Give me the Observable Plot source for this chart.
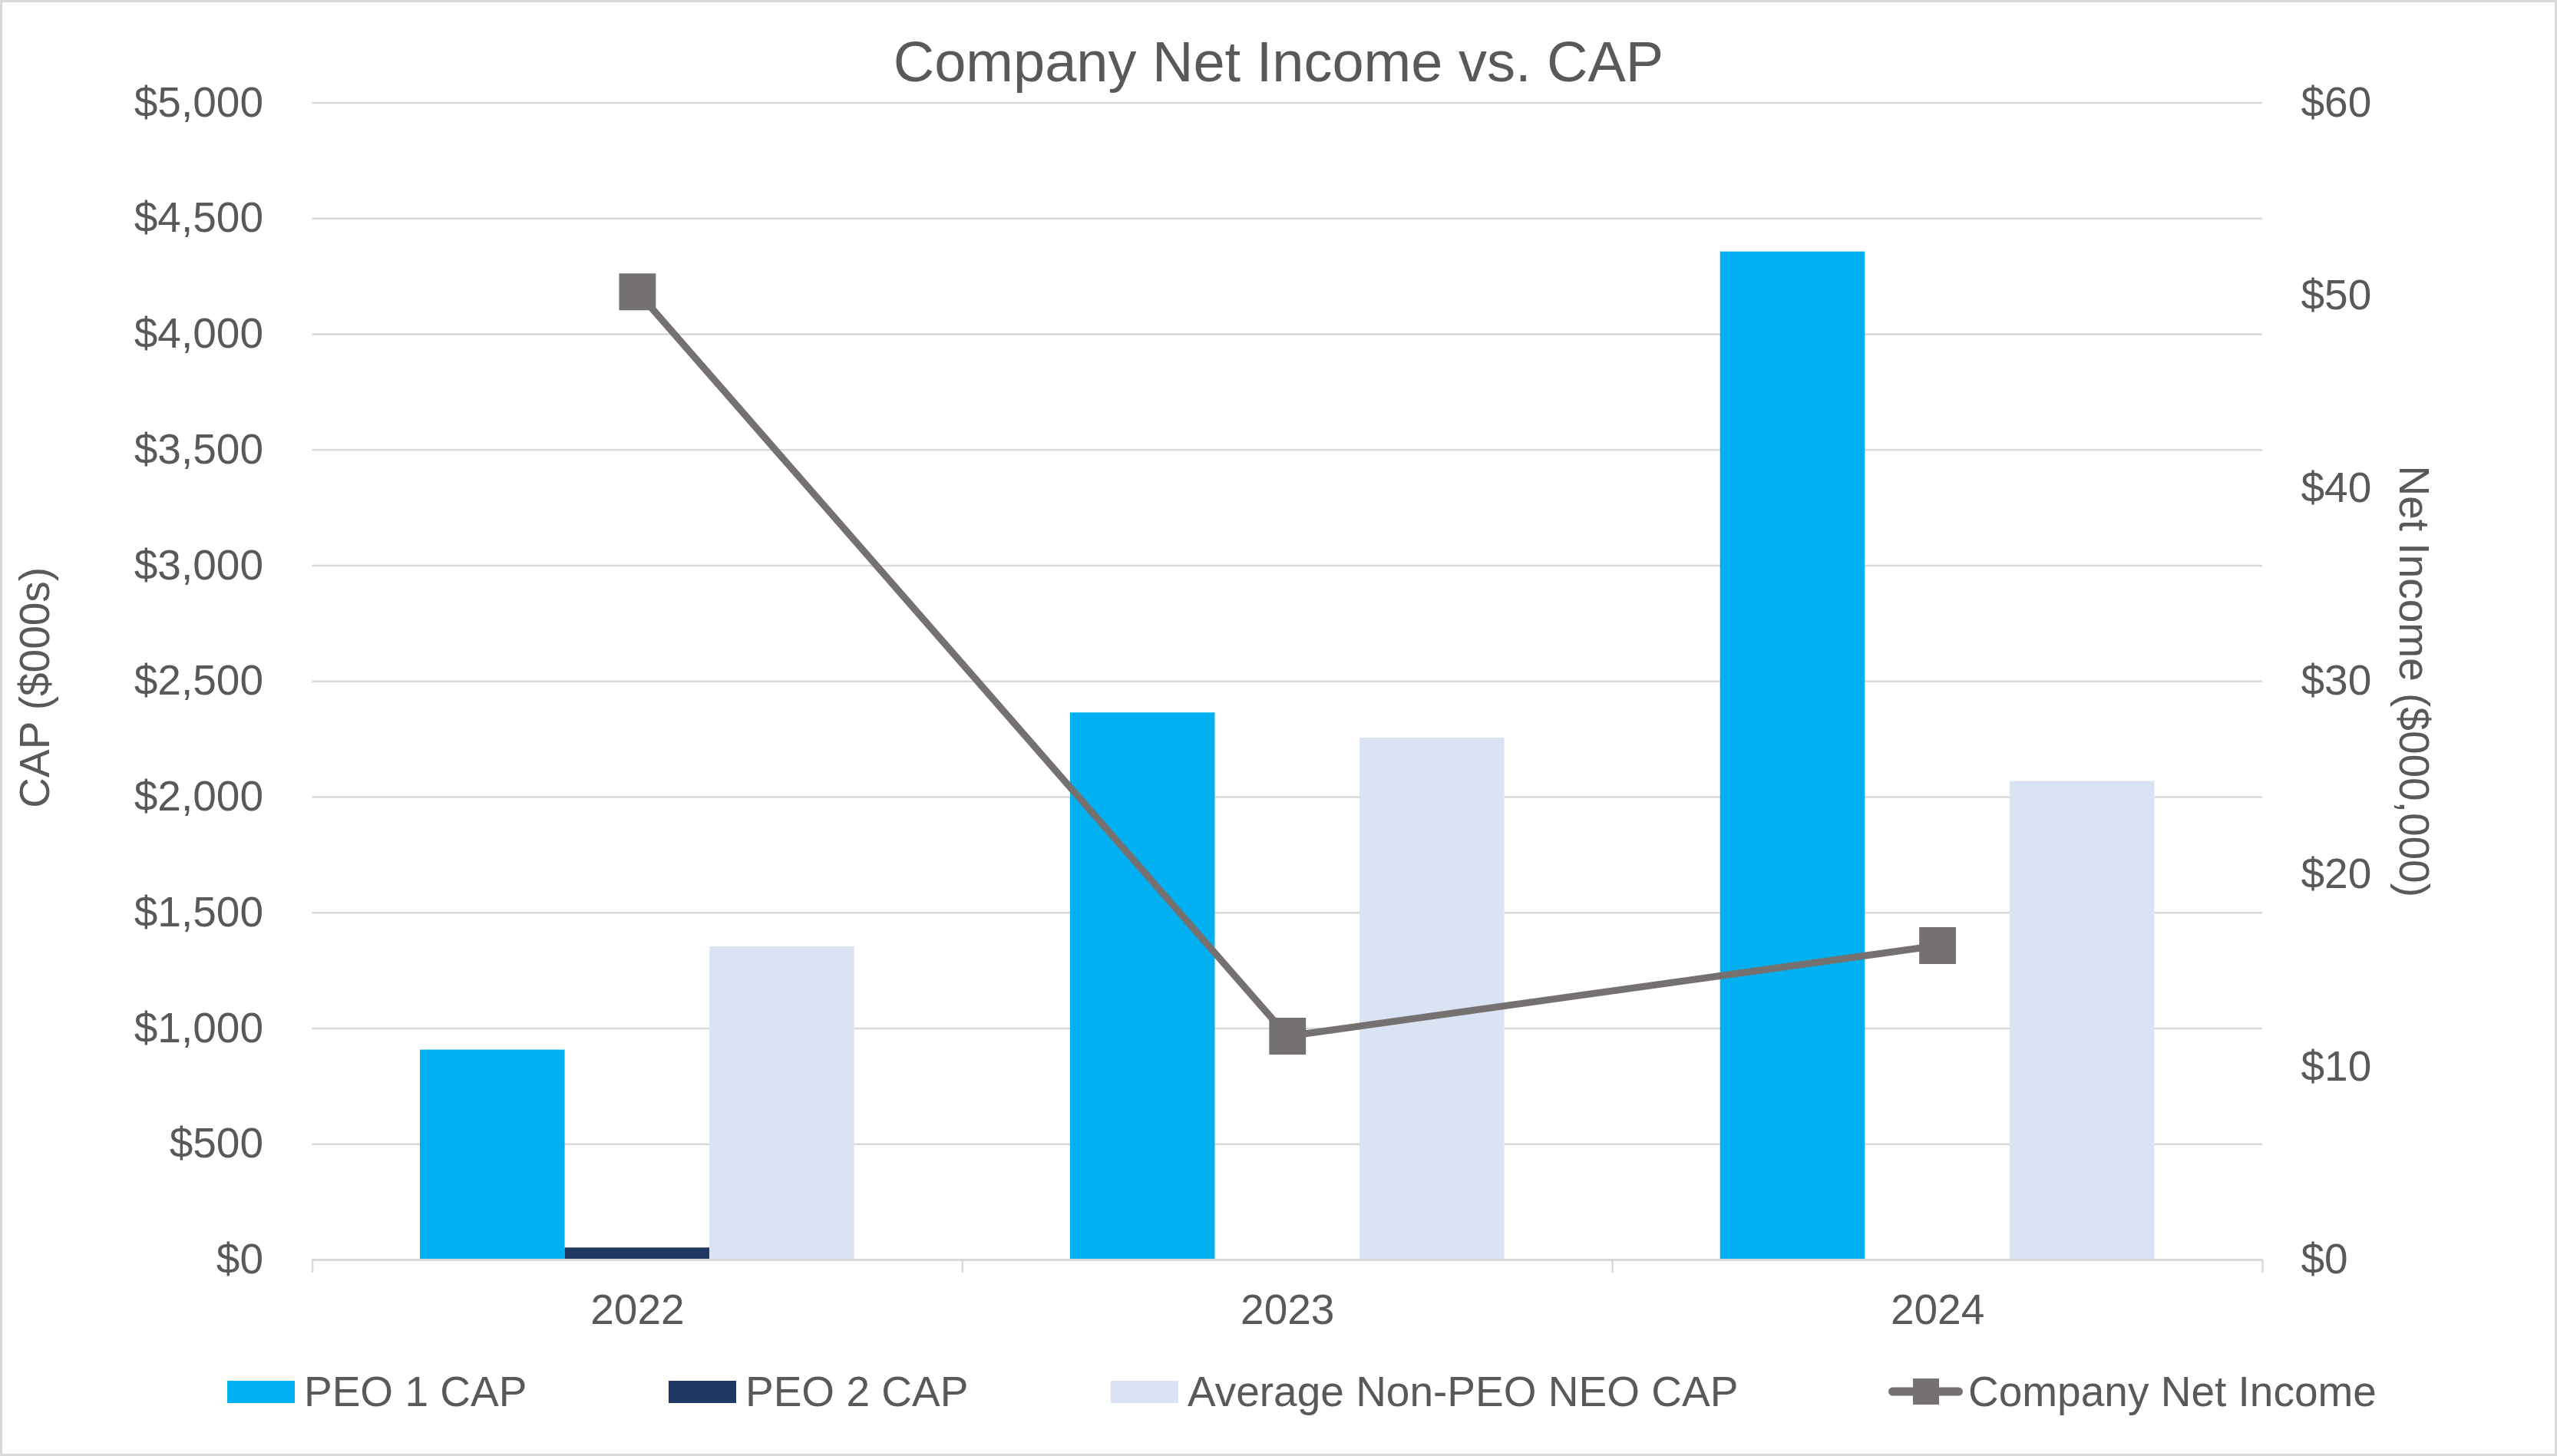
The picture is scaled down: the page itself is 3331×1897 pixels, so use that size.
<!DOCTYPE html>
<html><head><meta charset="utf-8">
<script src="https://cdn.jsdelivr.net/npm/d3@7"></script>
<script src="https://cdn.jsdelivr.net/npm/@observablehq/plot@0.6"></script>
<style>
html,body{margin:0;padding:0;background:#fff;}
#wrap{position:relative;width:3331px;height:1897px;overflow:hidden;font-family:"Liberation Sans",Arial,sans-serif;color:#595959;background:#fff;}
#border{position:absolute;left:0;top:0;width:3331px;height:1897px;box-sizing:border-box;border:3px solid #d9d9d9;pointer-events:none;}
#title{height:110px;box-sizing:border-box;padding-top:42px;font-size:74px;line-height:78px;text-align:center;white-space:nowrap;overflow:visible;}
#chart{height:1650px;}
#legend{position:relative;height:137px;}
.item{position:absolute;top:-4px;height:114px;display:flex;align-items:center;font-size:55px;white-space:nowrap;}
.sw{width:88px;height:29px;margin-right:12px;flex:none;}
</style></head><body>
<div id="wrap"><div id="title">Company Net Income vs. CAP</div><div id="chart"></div><div id="legend"></div><div id="border"></div></div>
<script>
const years = [2022, 2023, 2024];
const seriesNames = ["PEO 1 CAP", "PEO 2 CAP", "Average Non-PEO NEO CAP"];
const peo1Cap = [907, 2364, 4356];
const peo2Cap = [52, null, null];
const avgNeoCap = [1353, 2255, 2068];
const netIncome = [50.2, 11.6, 16.3];
const lineName = "Company Net Income";
const capTicks = d3.range(0, 5001, 500);
const niTicks = d3.range(0, 61, 10);
const bandEdges = [2021.5, 2022.5, 2023.5, 2024.5];
const colors = ["#00B0F0", "#203864", "#DAE3F3"];
const lineColor = "#767171";
const gridColor = "#D9D9D9";
const textColor = "#595959";

const k = 5000 / 60; // right-axis to left-axis factor
const barW = 0.2227;

const capRows = [];
[peo1Cap, peo2Cap, avgNeoCap].forEach((vals, s) => {
  years.forEach((yr, i) => {
    if (vals[i] != null) capRows.push({year: yr, s, series: seriesNames[s], value: vals[i]});
  });
});
const niRows = years.map((yr, i) => ({year: yr, ni: netIncome[i]}));

const fs = 55;
const chart = Plot.plot({
  width: 3331,
  height: 1650,
  marginLeft: 406.5,
  marginRight: 384,
  marginTop: 23.5,
  marginBottom: 119,
  style: {fontFamily: '"Liberation Sans", Arial, sans-serif', color: textColor, background: "transparent", overflow: "visible"},
  x: {domain: [2021.5, 2024.5], axis: null, label: null},
  y: {domain: [0, 5000], axis: null, label: null},
  color: {domain: seriesNames, range: colors},
  marks: [
    Plot.ruleY(capTicks.filter(v => v > 0), {stroke: gridColor, strokeWidth: 2.5}),
    Plot.rectY(capRows, {
      x1: d => d.year + (d.s - 1.5) * barW,
      x2: d => d.year + (d.s - 0.5) * barW,
      y1: 0, y2: "value", fill: "series"
    }),
    Plot.ruleY([0], {stroke: gridColor, strokeWidth: 3}),
    Plot.axisX(bandEdges, {tickSize: 17, tickFormat: () => "", stroke: gridColor, strokeWidth: 2.5, label: null}),
    Plot.axisX(years, {tickSize: 0, tickPadding: 44, tickFormat: d => String(d), fontSize: fs, fill: textColor, label: null}),
    Plot.axisY(capTicks, {anchor: "left", tickSize: 0, tickPadding: 64, tickFormat: d => "$" + d3.format(",")(d), fontSize: fs, fill: textColor, label: null}),
    Plot.axisY(niTicks.map(v => v * k), {anchor: "right", tickSize: 0, tickPadding: 50, tickFormat: d => "$" + Math.round(d / k), fontSize: fs, fill: textColor, label: null}),
    Plot.text(["CAP ($000s)"], {frameAnchor: "left", rotate: -90, dx: -360.5, dy: 8, textAnchor: "middle", fontSize: fs, fill: textColor}),
    Plot.text(["Net Income ($000,000)"], {frameAnchor: "right", rotate: 90, dx: 196, textAnchor: "middle", fontSize: fs, fill: textColor}),
    Plot.line(niRows, {x: "year", y: d => d.ni * k, stroke: lineColor, strokeWidth: 9}),
    Plot.dot(niRows, {x: "year", y: d => d.ni * k, symbol: "square", r: 27, fill: lineColor, stroke: "none"})
  ]
});
document.getElementById("chart").appendChild(chart);

// legend
const legend = document.getElementById("legend");
const lefts = [296, 871, 1447];
seriesNames.forEach((name, i) => {
  const it = document.createElement("div");
  it.className = "item";
  it.style.left = lefts[i] + "px";
  it.innerHTML = `<div class="sw" style="background:${colors[i]}"></div><span>${name}</span>`;
  legend.appendChild(it);
});
const li = document.createElement("div");
li.className = "item";
li.style.left = "2460px";
li.innerHTML = `<svg width="97" height="40" style="margin-right:7px;flex:none"><line x1="5.5" x2="91.5" y1="20" y2="20" stroke="${lineColor}" stroke-width="11" stroke-linecap="round"/><rect x="32" y="3" width="34" height="34" fill="${lineColor}"/></svg><span>${lineName}</span>`;
legend.appendChild(li);
</script>
</body></html>
